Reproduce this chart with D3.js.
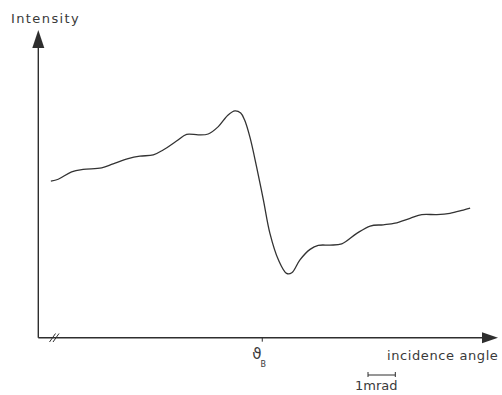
<!DOCTYPE html>
<html>
<head>
<meta charset="utf-8">
<script src="https://cdn.jsdelivr.net/npm/d3@7"></script>
<style>
  body { margin: 0; background: #fff; }
  text { font-family: "DejaVu Sans", sans-serif; fill: #3a3a3a; }
</style>
</head>
<body>
<div class="chart"></div>
<script>
// angle relative to Bragg angle (mrad)
const angles = [-7.74, -7.47, -6.98, -6.56, -5.88, -5.46, -4.91, -4.48, -3.99, -3.63,
                -3.14, -2.77, -2.34, -1.98, -1.61, -1.25, -1.00, -0.79, -0.65, -0.45,
                -0.21, 0.04, 0.28, 0.59, 0.89, 1.08, 1.38, 1.75, 2.05, 2.48,
                2.91, 3.46, 3.95, 4.43, 4.86, 5.41, 5.84, 6.39, 6.87, 7.36, 7.61];
// intensity, arbitrary units
const intensity = [5.09, 5.15, 5.39, 5.47, 5.52, 5.65, 5.82, 5.90, 5.94, 6.10,
                   6.39, 6.61, 6.59, 6.62, 6.86, 7.24, 7.37, 7.30, 7.08, 6.51,
                   5.56, 4.48, 3.39, 2.53, 2.09, 2.11, 2.53, 2.87, 3.00, 3.01,
                   3.05, 3.39, 3.63, 3.67, 3.72, 3.88, 4.00, 4.00, 4.04, 4.15, 4.21];
const xLabel = 'incidence angle';
const yLabel = 'Intensity';
const scaleBarLabel = '1mrad';

const data = angles.map((a, i) => ({angle: a, value: intensity[i]}));

const svg_width = 502, svg_height = 395;
const svg = d3.select('.chart').append('svg')
    .attr('width', svg_width).attr('height', svg_height);

const x0 = 38.3, y0 = 337.7;
const xScale = d3.scaleLinear().domain([-8.2, 8.63]).range([x0, 498]);
const yScale = d3.scaleLinear().domain([0, 10]).range([y0, 30]);

const ink = '#2e2e2e';

// axes
svg.append('line').attr('x1', x0).attr('y1', y0).attr('x2', x0).attr('y2', 46)
    .attr('stroke', ink).attr('stroke-width', 1.4);
svg.append('line').attr('x1', x0).attr('y1', y0).attr('x2', 484).attr('y2', y0)
    .attr('stroke', ink).attr('stroke-width', 1.4);
// arrow heads
svg.append('path').attr('d', `M${x0},30 L${x0 - 6},48 L${x0 + 6},48 Z`).attr('fill', ink);
svg.append('path').attr('d', `M498,${y0} L482,${y0 - 5.5} L482,${y0 + 5.5} Z`).attr('fill', ink);

// axis break
[0, 3.5].forEach(dx => {
  svg.append('line')
      .attr('x1', 49.5 + dx).attr('y1', 342)
      .attr('x2', 55.5 + dx).attr('y2', 333.5)
      .attr('stroke', ink).attr('stroke-width', 1);
});

// bragg angle tick
svg.append('line').attr('x1', xScale(0)).attr('x2', xScale(0))
    .attr('y1', y0).attr('y2', y0 + 4).attr('stroke', ink).attr('stroke-width', 1);
const bragg = svg.append('text').attr('x', xScale(0) - 10).attr('y', 359);
bragg.append('tspan').text('\u03D1').style('font-size', '15px');
bragg.append('tspan').text('B').attr('dx', -1).attr('dy', 8).style('font-size', '8px');

// curve
const line = d3.line()
    .x(d => xScale(d.angle))
    .y(d => yScale(d.value))
    .curve(d3.curveCatmullRom.alpha(0.5));
svg.append('path').datum(data)
    .attr('d', line)
    .attr('fill', 'none')
    .attr('stroke', '#333')
    .attr('stroke-width', 1.3);

// labels
svg.append('text').attr('x', 11).attr('y', 23).text(yLabel)
    .style('font-size', '13px').style('letter-spacing', '1.4px');
svg.append('text').attr('x', 387).attr('y', 360).text(xLabel)
    .style('font-size', '13px').style('letter-spacing', '0.6px');

// scale bar 1 mrad
const sbX = 368, sbY = 375;
const sbW = xScale(1) - xScale(0);
svg.append('line').attr('x1', sbX).attr('x2', sbX + sbW).attr('y1', sbY).attr('y2', sbY)
    .attr('stroke', ink).attr('stroke-width', 1);
[sbX, sbX + sbW].forEach(px => {
  svg.append('line').attr('x1', px).attr('x2', px).attr('y1', sbY - 3).attr('y2', sbY + 2)
      .attr('stroke', ink).attr('stroke-width', 1);
});
svg.append('text').attr('x', 355).attr('y', 390).text(scaleBarLabel)
    .style('font-size', '13px');
</script>
</body>
</html>
